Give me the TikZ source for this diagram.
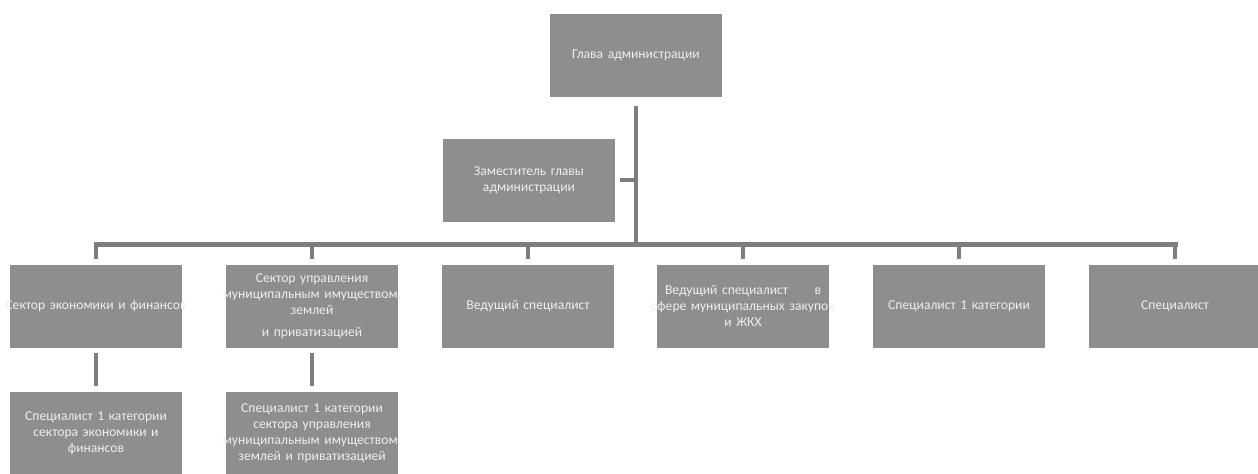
\documentclass[tikz,border=0pt]{standalone}
\usepackage{fontspec}
\setmainfont{Carlito}
\definecolor{postgray}{HTML}{8E8E8E}
\definecolor{posttext}{HTML}{EEEEEE}
\definecolor{linkgray}{HTML}{7E7E7E}
\begin{document}
\begin{tikzpicture}[
      x=0.5pt, y=-0.5pt,
      post/.style={fill=postgray,text=posttext,minimum width=86pt,minimum height=41.5pt,
        text width=100pt,inner xsep=-7pt,inner ysep=1pt,align=center,
        font=\fontsize{6.8}{8.1}\selectfont},
      link/.style={draw=linkgray,line width=2pt,shorten <=2.5pt},
      bus/.style={draw=linkgray,line width=2.5pt,line cap=rect}
    ]
    \fill[white] (0,0) rectangle (1258,473);
    \useasboundingbox (0,0) rectangle (1258,473);
    % Draw the head and the deputy.
    \node[post] (head)   at (636,55)  {Глава  администрации};
    \node[post] (deputy) at (529,180) {Заместитель главы\\администрации};
    % Draw the first row.
    \node[post] (econ)   at (96,306)   {Сектор экономики и финансов};
    \node[post] (prop)   at (312,306)  {Сектор управления\\муниципальным имуществом,\\землей\\[3pt]и приватизацией};
    \node[post] (lead)   at (528,306)  {Ведущий специалист};
    \node[post] (buy)    at (743,306)  {\makebox[78pt]{Ведущий специалист\hfill в}\\сфере муниципальных закупок\\и ЖКХ};
    \node[post] (first)  at (959,306)  {Специалист 1 категории};
    \node[post] (spec)   at (1175,306) {Специалист};
    % Draw the second row.
    \node[post] (econsp) at (96,433)  {Специалист 1 категории\\сектора экономики и\\финансов};
    \node[post] (propsp) at (312,433) {Специалист 1 категории\\сектора управления\\муниципальным имуществом,\\землей и приватизацией};
    % Draw the connections.
    \coordinate (rail) at (0,244);
    \draw[link,shorten <=4.5pt] (head.south) -- (head.south |- rail);
    \draw[link] (deputy.east) -- (deputy.east -| head.south);
    \draw[bus] (econ.north |- rail) -- (spec.north |- rail);
    \foreach \n in {econ,prop,lead,buy,first,spec}
      \draw[link] (\n.north) -- (\n.north |- rail);
    \draw[link,shorten >=2.5pt] (econ) -- (econsp);
    \draw[link,shorten >=2.5pt] (prop) -- (propsp);
    \end{tikzpicture}
\end{document}
